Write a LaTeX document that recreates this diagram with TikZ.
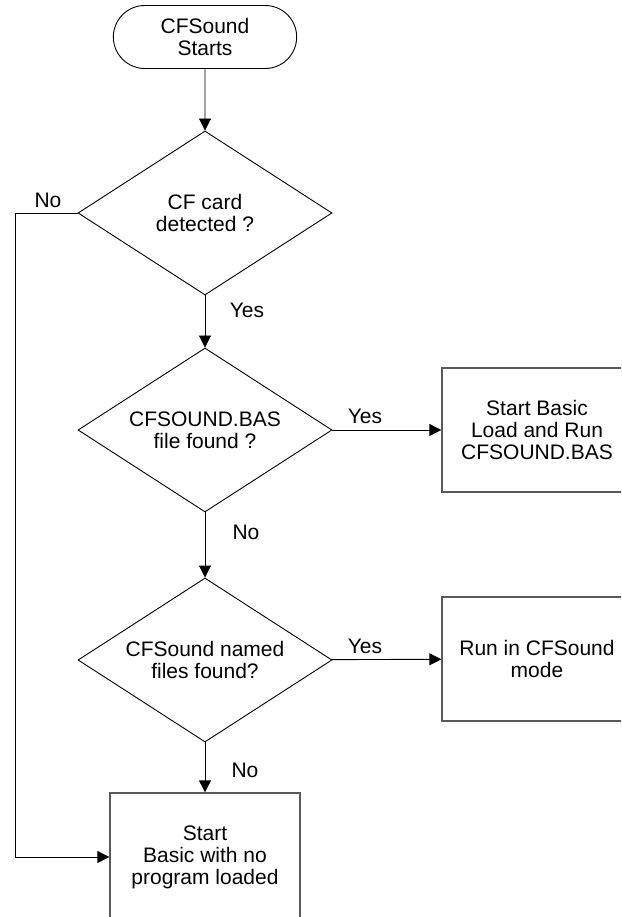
\documentclass[tikz,border=0pt]{standalone}
\usepackage{fontspec}
\setmainfont{Liberation Sans}
\usetikzlibrary{arrows.meta}
\usetikzlibrary{shapes.geometric, shapes.misc}

\begin{document}
\begin{tikzpicture}[x=1pt, y=-1pt,
    every node/.style={font=\fontsize{21}{22}\selectfont, align=center},
    decision/.style={diamond, draw, line width=0.9pt, inner sep=0pt, shape aspect=1.55, minimum width=254pt, minimum height=164pt},
    process/.style={rectangle, draw=black!65, line width=1.3pt, minimum width=190pt, minimum height=124pt},
    flow/.style={-{Triangle[length=12pt, width=12pt]}, line width=0.9pt}]
      \useasboundingbox (0,0) rectangle (621,917);
      \clip (0,0) rectangle (621,917);

      \node[rounded rectangle, draw, line width=0.9pt, minimum width=190pt, minimum height=63pt] (start) at (205,37) {CFSound\\Starts};
      \node[decision] (card) at (205,213) {CF card\\detected ?};
      \node[decision] (basfile) at (205,430) {CFSOUND.BAS\\file found ?};
      \node[decision] (named) at (205,660) {CFSound named\\files found?};

      \node[process] (runbas) at (537,430) {Start Basic\\Load and Run\\CFSOUND.BAS};
      \node[process] (runcfs) at (537,659) {Run in CFSound\\mode};
      \node[process, minimum height=128pt] (nobasic) at (205,857) {Start\\Basic with no\\program loaded};

      \node (nocard) at (48,200) {No};
      \node (yescard) at (247,310) {Yes};
      \node (yesbas) at (365,416) {Yes};
      \node (nobas) at (246,532) {No};
      \node (yesnamed) at (365,646) {Yes};
      \node (nonamed) at (245,770) {No};

      \coordinate (rail) at (15,857);

      \draw[flow] (start) -- (card);
      \draw[flow] (card) -- (basfile);
      \draw[flow] (basfile) -- (named);
      \draw[flow] (named) -- (nobasic);
      \draw[flow] (basfile) -- (runbas);
      \draw[flow] (named) -- (runcfs);
      \draw[flow] (card.west) -| (rail) -- (nobasic.west);


\end{tikzpicture}
\end{document}
